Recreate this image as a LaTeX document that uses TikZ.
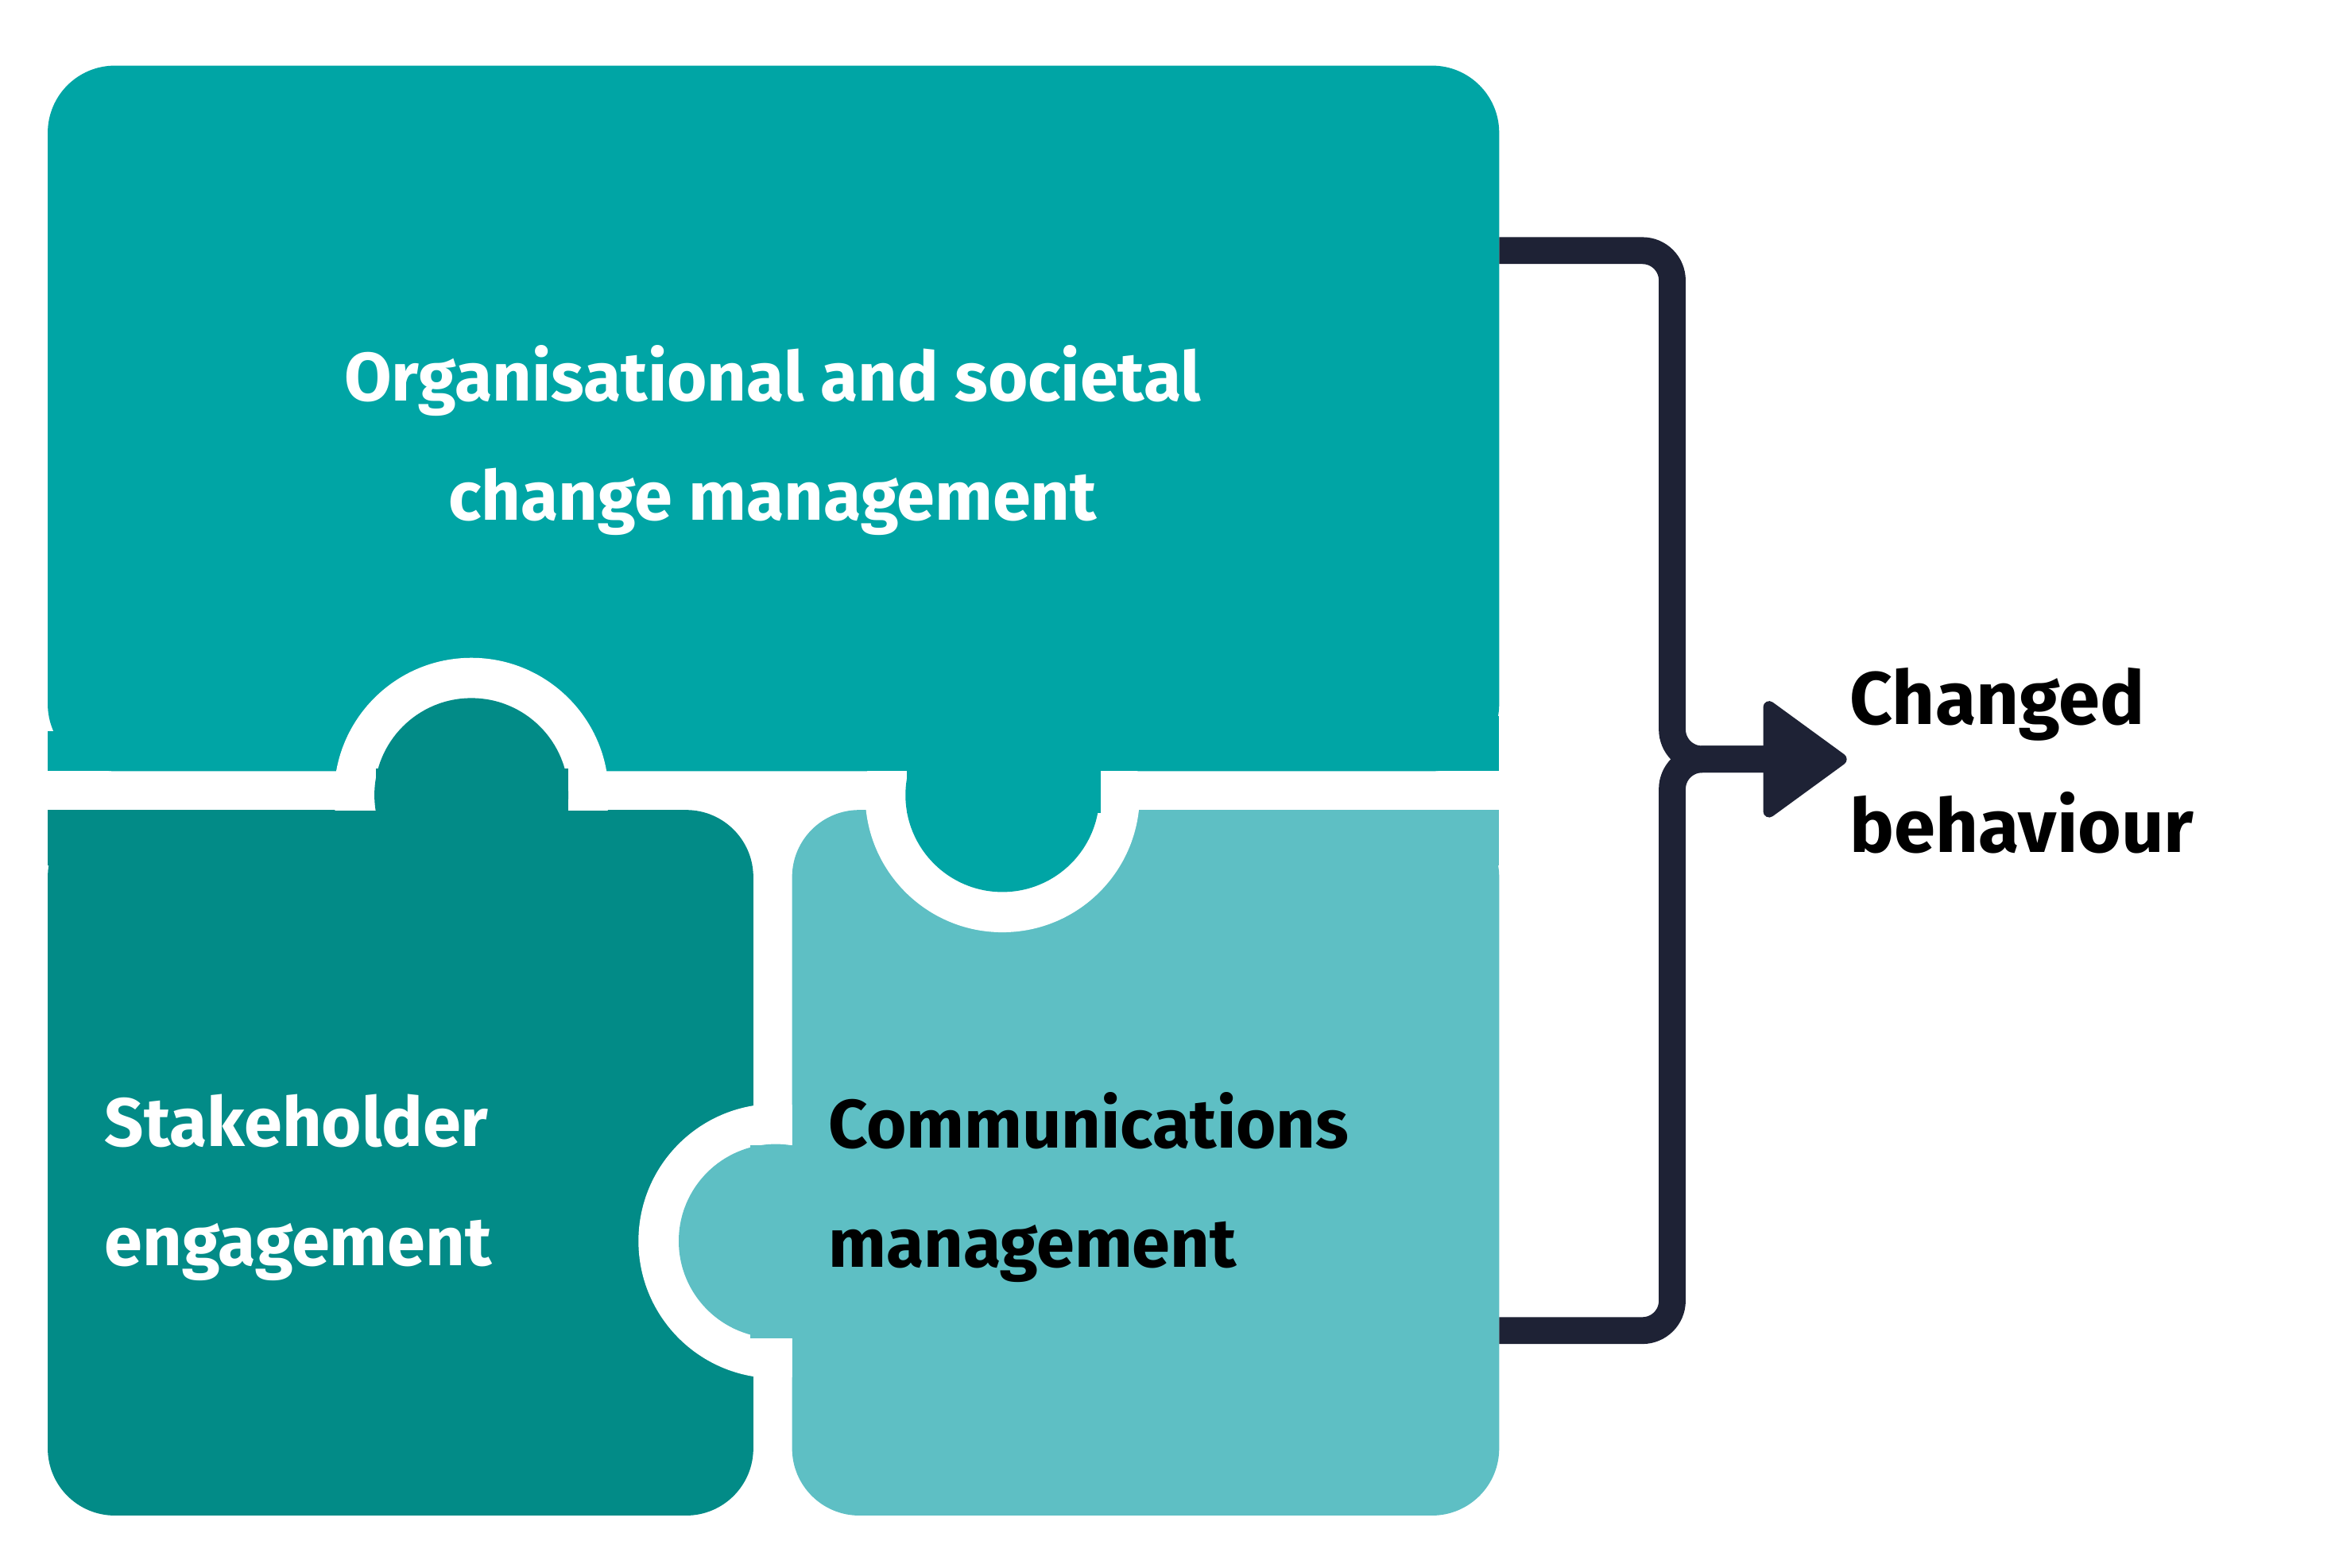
\documentclass[tikz,border=0pt]{standalone}
\usepackage{fontspec}
\setmainfont{Fira Sans}[UprightFont=* SemiBold,BoldFont=* Bold]
\definecolor{cTop}{HTML}{00A5A5}
\definecolor{cBL}{HTML}{028B87}
\definecolor{cBR}{HTML}{5EBFC4}
\definecolor{cDark}{HTML}{1E2235}
\begin{document}
\begin{tikzpicture}[x=1pt,y=-1pt,
  lbl/.style={font=\fontsize{46}{80}\selectfont\bfseries,align=left,inner sep=0pt,text=white},
  conn/.style={draw=cDark,line width=18pt,rounded corners=20pt}]
\useasboundingbox (0,0) rectangle (1568,1051);
% pieces
\fill[cTop,rounded corners=45pt] (32,517) -- (32,44) -- (1005,44) -- (1005,517) -- cycle;
\fill[cBL,rounded corners=45pt] (32,543) -- (32,1016) -- (505,1016) -- (505,543) -- cycle;
\fill[cBR,rounded corners=45pt] (531,543) -- (531,1016) -- (1005,1016) -- (1005,543) -- cycle;
\fill[cTop] (32,490) rectangle (100,517);
\fill[cBL] (32,543) rectangle (100,580);
\fill[cBR] (940,543) rectangle (1005,580);
\fill[cTop] (940,480) rectangle (1005,517);
% BL knob up
\begin{scope}\clip (0,0) rectangle (1568,543);
\fill[white] (316,533) circle (92);\end{scope}
\fill[cBL] (316,533) circle (65);
\fill[cBL] (252,515) rectangle (381,545);
% top knob down
\begin{scope}\clip (0,517) rectangle (1568,1051);
\fill[white] (672,533) circle (92);\end{scope}
\fill[cTop] (672,533) circle (65);
\fill[cTop] (608,515) rectangle (738,545);
% BR knob left
\begin{scope}\clip (0,543) rectangle (531,1051);
\fill[white] (520,832) circle (92);\end{scope}
\fill[cBR] (520,832) circle (65);
\fill[cBR] (503,768) rectangle (533,897);
% labels
\node[lbl,align=center] (top) at (518,295) {Organisational and societal\\change management};
\node[lbl,anchor=west] (bl) at (70,796) {Stakeholder\\engagement};
\node[lbl,anchor=west,text=black] (br) at (555,796) {Communications\\management};
\node[lbl,anchor=west,text=black,font=\fontsize{50}{86}\selectfont\bfseries] (cb) at (1240,510) {Changed\\behaviour};
% connectors
\coordinate (o1) at (1005,168);
\coordinate (o2) at (1005,892);
\coordinate (j) at (1121,509);
\coordinate (a) at (1190,509);
\draw[conn] (o1) -- (1121,168) -- (j) -- (a);
\draw[conn] (o2) -- (1121,892) -- (j) -- (a);
\fill[cDark,draw=cDark,line width=8pt,line join=round] (1186,474) -- (1234,509) -- (1186,544) -- cycle;
\end{tikzpicture}
\end{document}
